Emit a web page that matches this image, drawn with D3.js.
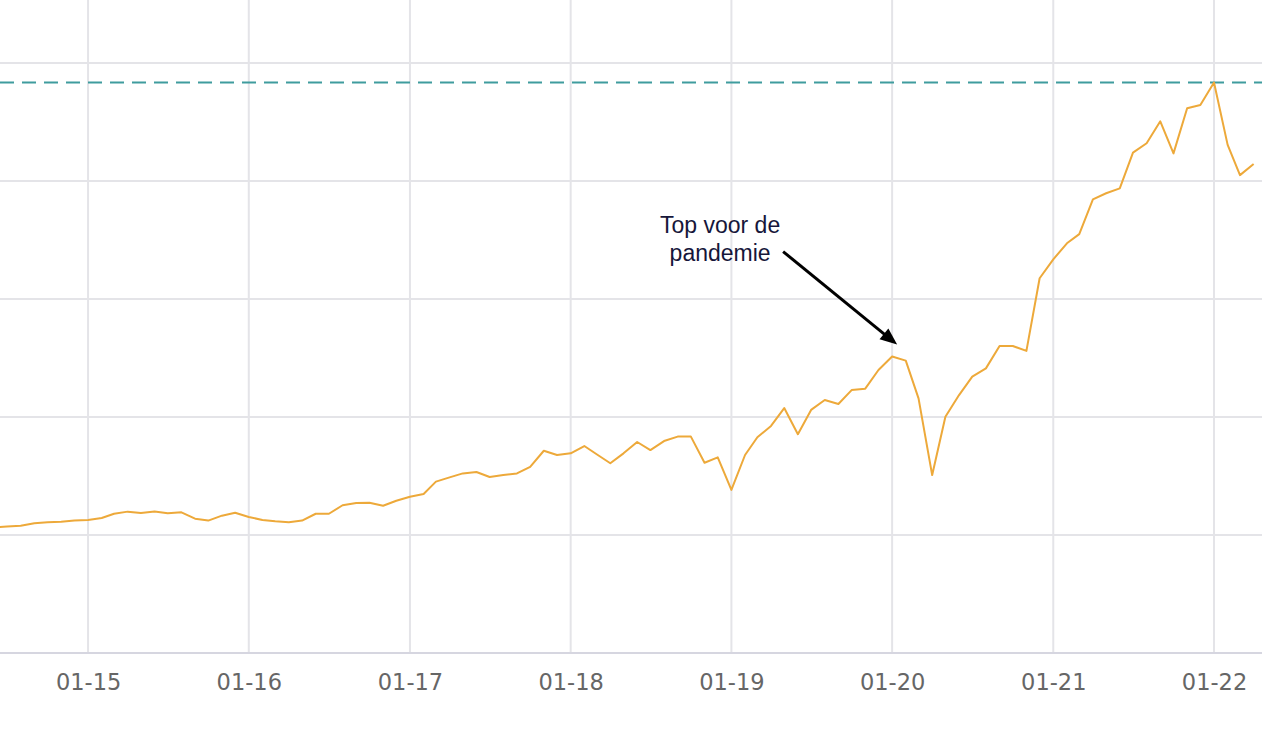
<!DOCTYPE html>
<html>
<head>
<meta charset="utf-8">
<script src="https://cdn.jsdelivr.net/npm/d3@7"></script>
<style>
  html, body { margin: 0; padding: 0; background: #fff; }
  svg { display: block; }
</style>
</head>
<body>
<svg id="chart" width="1262" height="736"></svg>
<script>
// ---- data ----
const months = [
  "2014-06","2014-07","2014-08","2014-09","2014-10","2014-11","2014-12",
  "2015-01","2015-02","2015-03","2015-04","2015-05","2015-06","2015-07","2015-08","2015-09","2015-10","2015-11","2015-12",
  "2016-01","2016-02","2016-03","2016-04","2016-05","2016-06","2016-07","2016-08","2016-09","2016-10","2016-11","2016-12",
  "2017-01","2017-02","2017-03","2017-04","2017-05","2017-06","2017-07","2017-08","2017-09","2017-10","2017-11","2017-12",
  "2018-01","2018-02","2018-03","2018-04","2018-05","2018-06","2018-07","2018-08","2018-09","2018-10","2018-11","2018-12",
  "2019-01","2019-02","2019-03","2019-04","2019-05","2019-06","2019-07","2019-08","2019-09","2019-10","2019-11","2019-12",
  "2020-01","2020-02","2020-03","2020-04","2020-05","2020-06","2020-07","2020-08","2020-09","2020-10","2020-11","2020-12",
  "2021-01","2021-02","2021-03","2021-04","2021-05","2021-06","2021-07","2021-08","2021-09","2021-10","2021-11","2021-12",
  "2022-01","2022-02","2022-03","2022-04"
];
const values = [
  103.2,103.6,103.9,105.0,105.4,105.6,106.1,
  106.4,107.2,109.0,109.9,109.3,110.0,109.2,109.6,106.9,106.1,108.2,109.4,
  107.6,106.4,105.8,105.4,106.1,109.0,109.0,112.6,113.6,113.7,112.4,114.5,
  116.2,117.4,122.6,124.4,126.1,126.7,124.6,125.4,126.1,128.9,135.7,133.9,
  134.6,137.7,134.2,130.4,134.6,139.4,136.0,139.8,141.7,141.7,130.6,132.9,
  119.1,133.9,141.4,146.2,153.8,142.7,153.0,157.2,155.5,161.4,162.0,169.9,
  175.6,173.9,157.9,125.4,150.1,159.3,167.1,170.6,180.1,180.1,178.0,208.8,
  216.8,223.6,227.5,242.2,244.8,246.9,262.0,266.0,275.3,261.7,280.8,282.2,
  291.7,265.3,252.5,257.2
];
const xTickLabels = ["01-15","01-16","01-17","01-18","01-19","01-20","01-21","01-22"];
const yGridValues = [50,100,150,200,250,300];
const peakLevel = 291.7;
const annotationLines = ["Top voor de", "pandemie"];
const annotationMonth = "2020-01";

// ---- setup ----
const W = 1262, H = 736;
const parseMonth = d3.timeParse("%Y-%m");
const parseTick = d3.timeParse("%m-%y");
const data = months.map((m, i) => ({ date: parseMonth(m), value: values[i] }));

const x = d3.scaleTime()
  .domain([new Date(2014, 5, 15), new Date(2022, 3, 20)])
  .range([0, W]);
const y = d3.scaleLinear().domain([50, 300]).range([653, 63]);

const svg = d3.select("#chart");

// vertical gridlines
const tickDates = xTickLabels.map(parseTick);
svg.append("g").selectAll("line").data(tickDates).join("line")
  .attr("x1", d => x(d)).attr("x2", d => x(d))
  .attr("y1", 0).attr("y2", y(50))
  .attr("stroke", "#e4e4e8").attr("stroke-width", 2);

// horizontal gridlines
svg.append("g").selectAll("line").data(yGridValues.filter(v => v > 50)).join("line")
  .attr("x1", 0).attr("x2", W)
  .attr("y1", d => y(d)).attr("y2", d => y(d))
  .attr("stroke", "#e4e4e8").attr("stroke-width", 2);

// bottom axis
const xAxis = d3.axisBottom(x)
  .tickValues(tickDates)
  .tickFormat(d3.timeFormat("%m-%y"))
  .tickSize(0)
  .tickPadding(21);
const gx = svg.append("g").attr("transform", `translate(0,${y(50)})`).call(xAxis);
gx.select(".domain").attr("stroke", "#d6d6e0").attr("stroke-width", 2)
  .attr("d", `M0,0H${W}`);
gx.selectAll("text")
  .attr("font-family", "DejaVu Sans, Verdana, sans-serif")
  .attr("font-size", 22.5)
  .attr("fill", "#666666");

// peak reference dashed line
svg.append("line")
  .attr("x1", 0).attr("x2", W)
  .attr("y1", y(peakLevel)).attr("y2", y(peakLevel))
  .attr("stroke", "#3f9c9e").attr("stroke-width", 2)
  .attr("stroke-dasharray", "14,8");

// data line
const line = d3.line().x(d => x(d.date)).y(d => y(d.value));
svg.append("path").datum(data)
  .attr("d", line)
  .attr("fill", "none")
  .attr("stroke", "#eda93a")
  .attr("stroke-width", 2)
  .attr("stroke-linejoin", "round");

// annotation
const ad = data.find(d => d.date.getTime() === parseMonth(annotationMonth).getTime());
const tipX = x(ad.date) + 5, tipY = y(ad.value) - 12;
const startX = tipX - 114, startY = tipY - 93;
const ang = Math.atan2(tipY - startY, tipX - startX);
const hl = 17, hw = 7;
const bx = tipX - hl * Math.cos(ang), by = tipY - hl * Math.sin(ang);
svg.append("line")
  .attr("x1", startX).attr("y1", startY)
  .attr("x2", bx + 2 * Math.cos(ang)).attr("y2", by + 2 * Math.sin(ang))
  .attr("stroke", "#000").attr("stroke-width", 3);
svg.append("path")
  .attr("d", `M${tipX},${tipY}L${bx + hw * Math.sin(ang)},${by - hw * Math.cos(ang)}L${bx - hw * Math.sin(ang)},${by + hw * Math.cos(ang)}Z`)
  .attr("fill", "#000");

const txt = svg.append("text")
  .attr("x", startX - 63).attr("y", startY - 19)
  .attr("text-anchor", "middle")
  .attr("font-family", "Liberation Sans, Arial, Helvetica, sans-serif")
  .attr("font-size", 23)
  .attr("fill", "#16163a");
txt.selectAll("tspan").data(annotationLines).join("tspan")
  .attr("x", startX - 63)
  .attr("dy", (d, i) => i === 0 ? 0 : 28.5)
  .text(d => d);
</script>
</body>
</html>
